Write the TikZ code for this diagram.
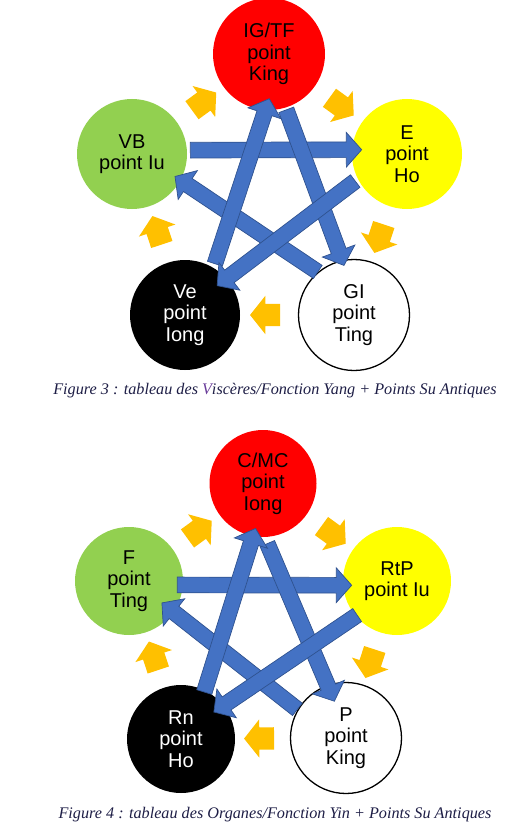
\documentclass[tikz,border=0pt]{standalone}
\usepackage{fontspec}
\setmainfont{Liberation Sans}
\newfontfamily\capfont{Liberation Serif}
\usetikzlibrary{shapes.arrows,calc}
\definecolor{cred}{HTML}{FF0000}
\definecolor{cgreen}{HTML}{92D050}
\definecolor{cyellow}{HTML}{FFFF00}
\definecolor{corange}{HTML}{FFC000}
\definecolor{cblue}{HTML}{4472C4}
\definecolor{cblueb}{HTML}{2F528F}
\definecolor{capcol}{HTML}{1E1E46}
\definecolor{vcol}{HTML}{6A3D9A}
\tikzset{
  elem/.style={circle, inner sep=0pt, outer sep=0pt, align=center,
    font=\fontsize{20}{21.5}\selectfont},
  bluearr/.style={single arrow, fill=cblue, draw=cblueb, line width=0.7pt,
    inner xsep=0pt, inner ysep=7.5pt, outer sep=0pt,
    single arrow head extend=9.5pt, single arrow tip angle=97, minimum width=1pt},
  orangearr/.style={single arrow, fill=corange, draw=none,
    inner xsep=0pt, inner ysep=11pt, outer sep=0pt,
    single arrow head extend=8pt, single arrow tip angle=103,
    minimum height=30pt, minimum width=1pt},
  captext/.style={font=\capfont\itshape\fontsize{16.2}{18}\selectfont, text=capcol, inner sep=0pt}
}
\newcommand\bluelink[3]{%
  \path let \p1=#2, \p2=#3,
    \n1={atan2(\y2-\y1,\x2-\x1)}, \n2={veclen(\x2-\x1,\y2-\y1)} in
    node[bluearr, minimum height=\n2, rotate=\n1] (#1) at ($(\p1)!0.5!(\p2)$) {};}
\newcommand\orangelink[3]{%
  \path let \p1=(#2.center), \p2=(#3.center),
    \n1={atan2(\y2-\y1,\x2-\x1)} in
    node[orangearr, rotate=\n1] (#1) at ($(\p1)!0.5!(\p2)$) {};}
\begin{document}
\begin{tikzpicture}[x=1pt,y=-1pt]
\useasboundingbox (0,0) rectangle (522,832);
% ---------- Figure 3 ----------
\node[elem, fill=cred, minimum size=112pt] (IG) at (269,54) {IG/TF\\point\\King};
\node[elem, fill=cgreen, minimum size=110pt] (VB) at (132,154) {VB\\point Iu};
\node[elem, fill=cyellow, minimum size=110pt] (E) at (407,154) {E\\point\\Ho};
\node[elem, fill=black, text=white, minimum size=110pt] (Ve) at (185,315) {Ve\\point\\Iong};
\node[elem, fill=white, draw=black, line width=1.3pt, minimum size=111pt] (GI) at (354,315) {GI\\point\\Ting};

\orangelink{o31}{VB}{IG}
\orangelink{o32}{IG}{E}
\orangelink{o33}{E}{GI}
\orangelink{o34}{GI}{Ve}
\orangelink{o35}{Ve}{VB}

\bluelink{b31}{($(VB.center)+(4:55pt)$)}{($(E.center)+(175:49pt)$)}
\bluelink{b35}{($(GI.center)+(129:53pt)$)}{($(VB.center)+(-28:52pt)$)}
\bluelink{b33}{($(IG.center)+(-73:55pt)$)}{($(GI.center)+(102:54pt)$)}
\bluelink{b32}{($(Ve.center)+(59:56pt)$)}{($(IG.center)+(-91:48pt)$)}
\bluelink{b34}{($(E.center)+(207:55pt)$)}{($(Ve.center)+(42:47pt)$)}

\node[captext] (cap3) at (275,391) {Figure 3 : tableau des {\color{vcol}V}iscères/Fonction Yang + Points Su Antiques};

% ---------- Figure 4 ----------
\node[elem, fill=cred, minimum size=107pt] (C) at (263,483.5) {C/MC\\point\\Iong};
\node[elem, fill=cgreen, minimum size=108pt] (F) at (129,581) {F\\point\\Ting};
\node[elem, fill=cyellow, minimum size=108pt] (R) at (397,581) {RtP\\point Iu};
\node[elem, fill=black, text=white, minimum size=108pt] (Rn) at (181,739) {Rn\\point\\Ho};
\node[elem, fill=white, draw=black, line width=1.3pt, minimum size=111pt] (P) at (346,738) {P\\point\\King};

\orangelink{o41}{F}{C}
\orangelink{o42}{C}{R}
\orangelink{o43}{R}{P}
\orangelink{o44}{P}{Rn}
\orangelink{o45}{Rn}{F}

\bluelink{b41}{($(F.center)+(-5:45pt)$)}{($(R.center)+(185:49pt)$)}
\bluelink{b45}{($(P.center)+(150:53pt)$)}{($(F.center)+(-34:43pt)$)}
\bluelink{b43}{($(C.center)+(-87:57pt)$)}{($(P.center)+(108:42pt)$)}
\bluelink{b42}{($(Rn.center)+(63:49pt)$)}{($(C.center)+(-100:49pt)$)}
\bluelink{b44}{($(R.center)+(221:49pt)$)}{($(Rn.center)+(39:46pt)$)}

\node[captext] (cap4) at (275,815) {Figure 4 : tableau des Organes/Fonction Yin + Points Su Antiques};
\end{tikzpicture}
\end{document}
